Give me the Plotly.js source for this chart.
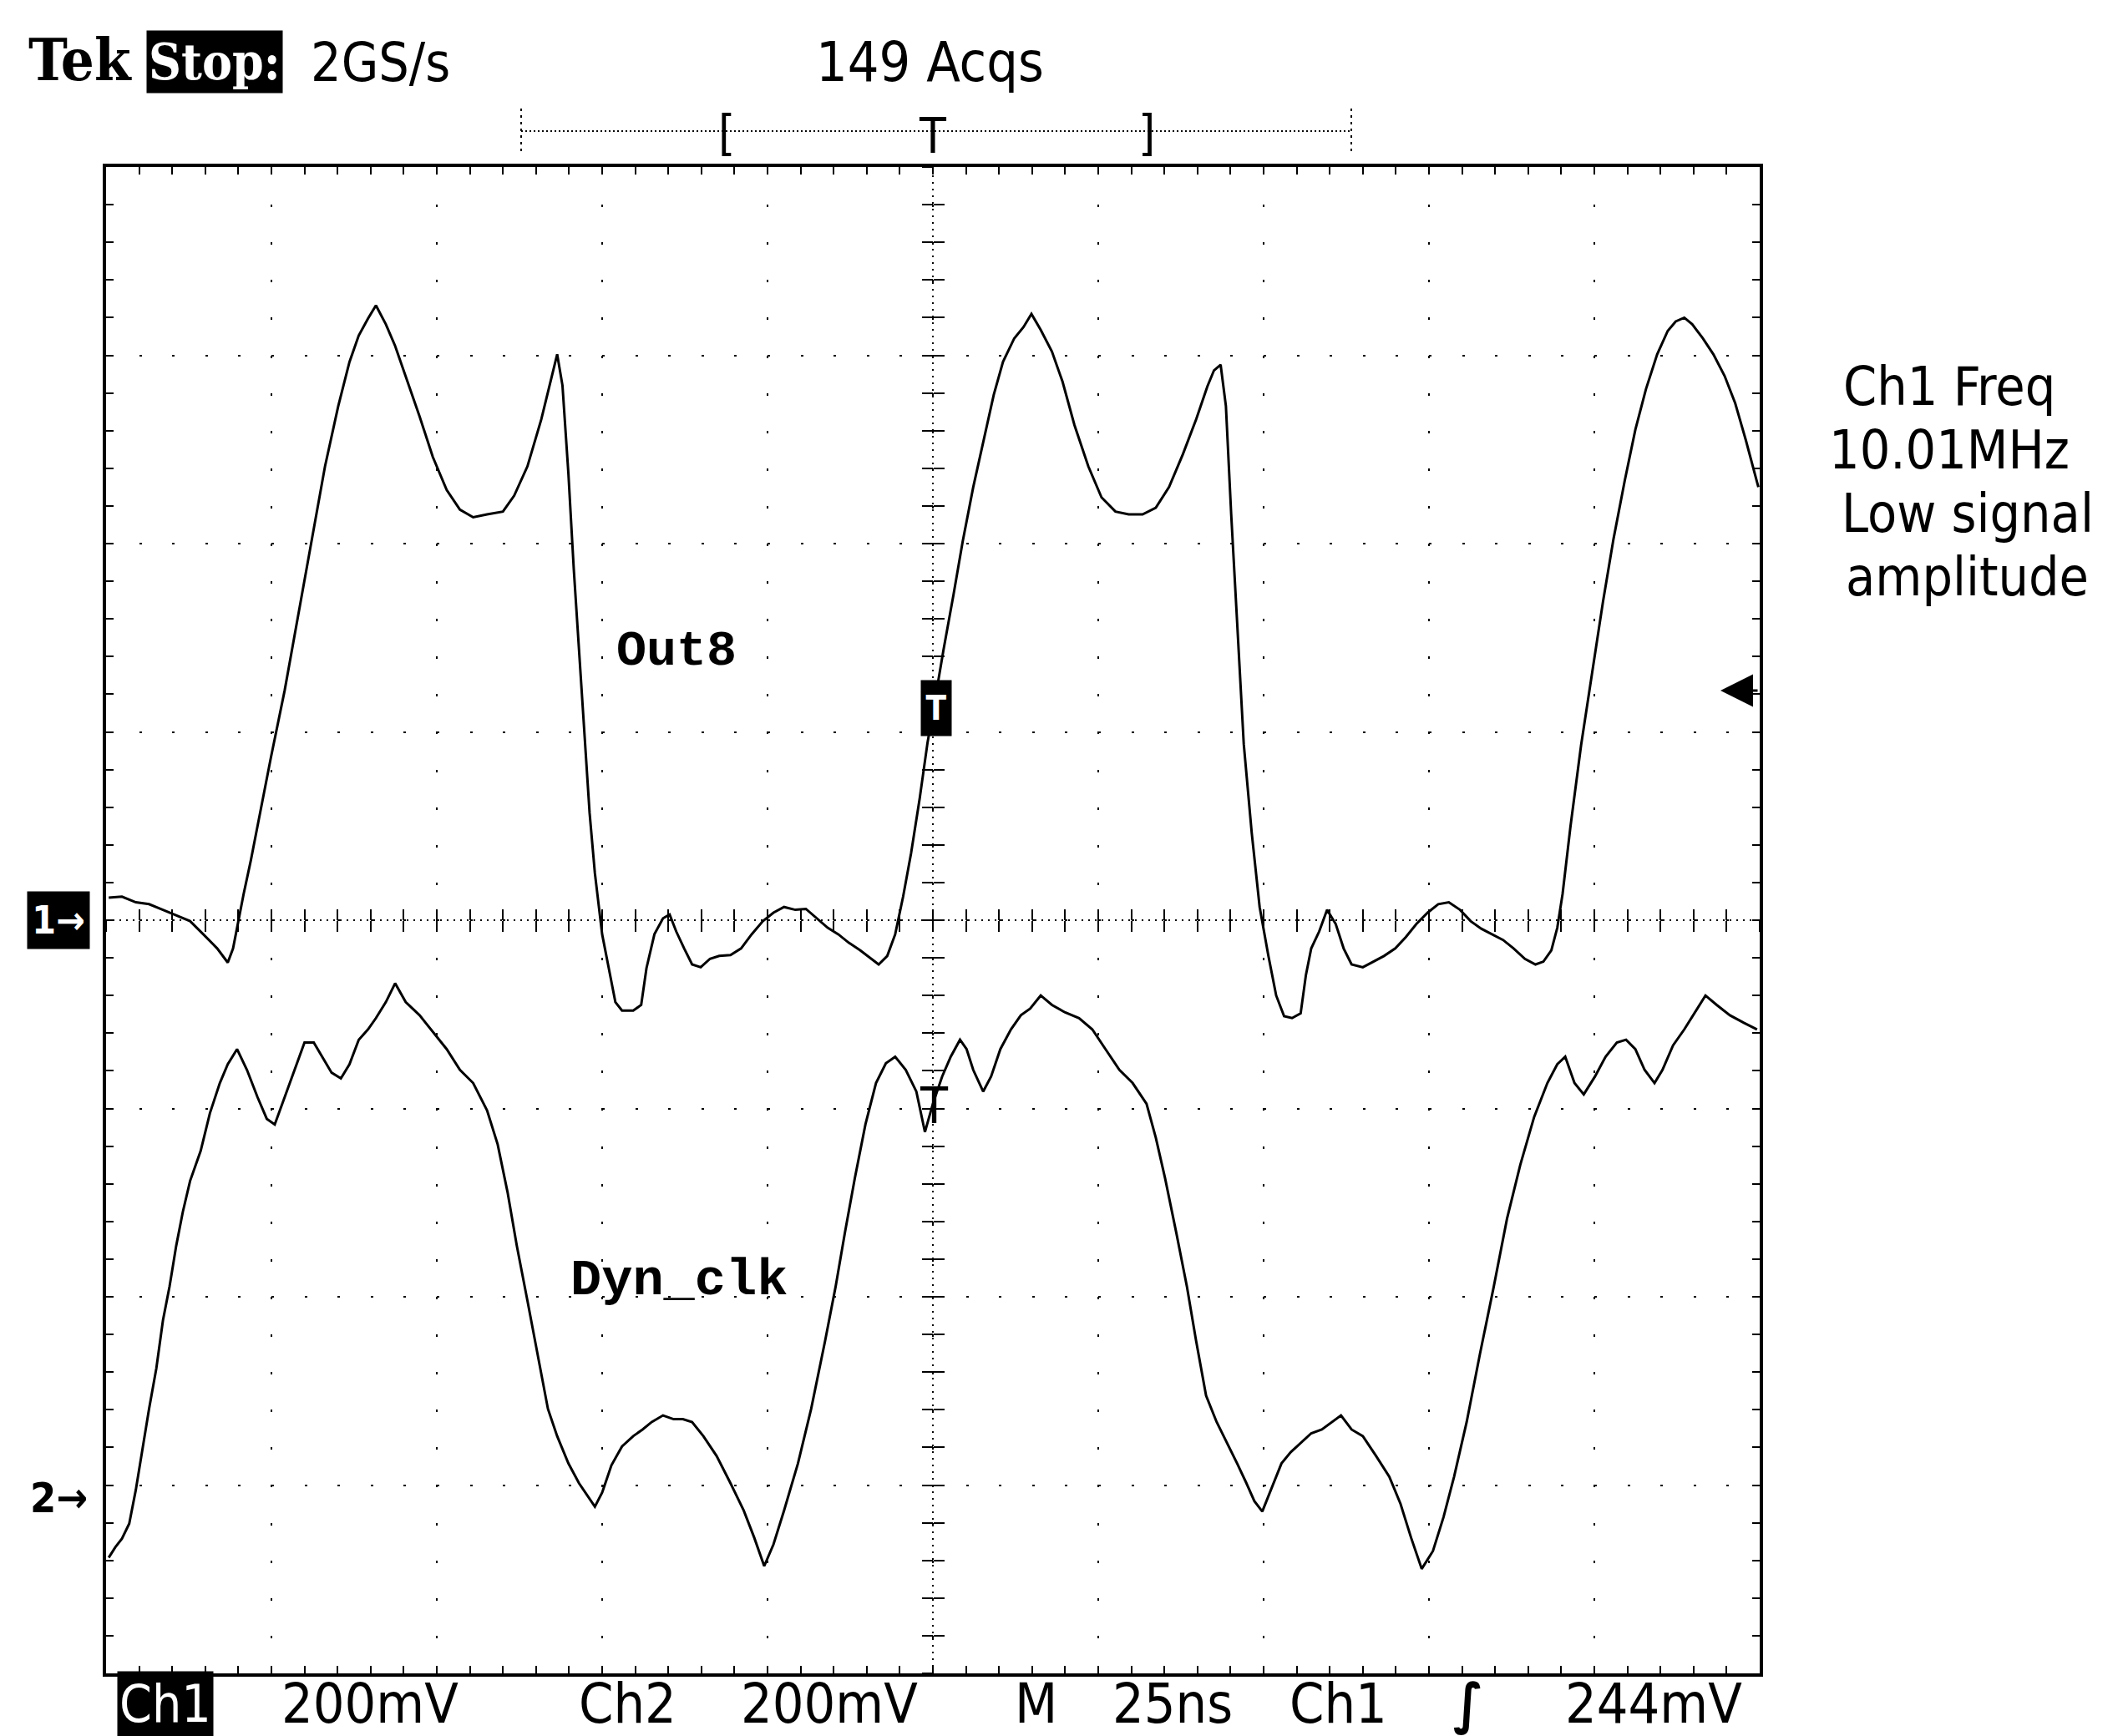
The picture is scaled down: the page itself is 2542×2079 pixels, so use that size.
<!DOCTYPE html>
<html>
<head>
<meta charset="utf-8">
<script src="https://cdn.plot.ly/plotly-3.0.1.min.js"></script>
<style>
html,body{margin:0;padding:0;background:#fff;}
#chart{width:2542px;height:2079px;}
</style>
</head>
<body>
<div id="chart"></div>
<script>
// ---- Data (time in ns, voltage in mV) ----
const ch1_t = [
 -124.6,-122.6,-120.5,-118.5,-116.4,-114.4,-112.3,-110.3,-108.2,-106.6,
 -105.8,-105.0,-104.2,-103.1,-102.1,-100.1,-98.0,-96.0,-94.0,-91.9,
 -89.9,-88.2,-86.8,-85.4,-84.2,-82.7,-81.3,-79.7,-77.6,-75.6,
 -73.5,-71.5,-69.5,-67.4,-65.0,-63.3,-61.3,-59.2,-57.6,-56.8,
 -56.0,-55.1,-54.3,-53.5,-52.7,-51.9,-51.1,-50.0,-49.0,-48.0,
 -47.0,-45.3,-44.1,-43.3,-42.1,-40.8,-39.8,-38.8,-37.6,-36.4,
 -35.1,-33.7,-32.3,-30.6,-29.0,-27.4,-25.7,-24.1,-22.5,-20.8,
 -19.2,-17.6,-15.9,-14.3,-12.7,-11.0,-9.4,-8.2,-6.9,-5.7,
 -4.5,-3.3,-2.0,-0.8,0.4,1.6,3.1,4.5,6.1,7.8,
 9.2,10.6,12.3,13.7,14.9,16.3,18.0,19.6,21.4,23.5,
 25.5,27.6,29.6,31.7,33.7,35.7,37.8,39.8,41.5,42.5,
 43.5,44.3,45.1,46.0,47.0,48.2,49.4,50.7,51.9,53.1,
 54.3,55.6,56.4,57.2,58.4,59.6,60.9,62.1,63.3,65.0,
 66.6,68.2,69.9,71.5,73.1,74.8,76.4,78.0,79.7,81.3,
 82.9,84.6,86.2,87.8,89.5,91.1,92.3,93.5,94.4,95.2,
 96.4,98.0,99.7,101.3,102.9,104.6,106.2,107.8,109.5,111.1,
 112.3,113.6,114.8,116.4,118.0,119.7,121.3,122.9,124.8
];
const ch1_mv = [
 24,25,19,17,11,5,-1,-15,-30,-45,
 -30,-1,28,64,100,172,244,323,402,482,
 546,593,621,639,653,633,610,578,535,492,
 457,436,428,431,434,451,482,532,578,601,
 568,474,374,287,194,114,50,-15,-51,-87,
 -96,-96,-90,-51,-15,2,6,-12,-30,-47,
 -50,-41,-38,-37,-30,-15,-1,8,14,11,
 12,2,-8,-15,-24,-32,-41,-47,-38,-15,
 25,71,129,189,237,287,345,402,460,515,
 558,593,618,630,644,627,604,572,526,482,
 449,434,431,431,438,460,495,532,567,584,
 590,546,431,316,187,93,14,-37,-80,-102,
 -104,-99,-58,-30,-12,11,-4,-30,-47,-50,
 -44,-38,-30,-18,-4,8,17,19,11,-1,
 -9,-15,-21,-30,-41,-47,-44,-32,-8,28,
 100,186,266,338,405,467,521,564,601,626,
 636,640,633,618,601,578,549,510,460
];
const ch2_t = [
 -124.6,-123.6,-122.6,-121.5,-120.5,-119.5,-118.5,-117.4,-116.4,-115.4,
 -114.4,-113.4,-112.3,-110.7,-109.3,-107.8,-106.6,-105.2,-103.7,-102.1,
 -100.7,-99.5,-98.0,-96.4,-95.0,-93.6,-92.3,-90.9,-89.5,-88.2,
 -86.8,-85.4,-84.2,-82.7,-81.3,-79.7,-77.6,-75.6,-73.5,-71.5,
 -69.5,-67.4,-65.8,-64.3,-62.9,-61.3,-59.8,-58.2,-56.8,-55.1,
 -53.5,-52.1,-51.1,-50.0,-48.6,-47.0,-45.3,-43.9,-42.5,-40.8,
 -39.2,-37.8,-36.4,-34.7,-32.7,-30.6,-28.6,-27.0,-25.5,-24.1,
 -22.5,-20.4,-18.4,-16.3,-14.7,-13.3,-11.8,-10.2,-8.6,-7.1,
 -5.7,-4.1,-2.5,-1.2,0.0,1.4,2.7,4.1,5.1,6.1,
 7.6,8.8,10.2,11.8,13.3,14.7,16.3,18.0,20.0,22.1,
 24.1,26.1,28.2,30.2,32.3,33.7,35.1,36.8,38.4,39.8,
 41.3,42.9,44.5,46.0,47.4,48.6,49.8,51.1,52.7,54.1,
 55.6,57.2,58.8,60.3,61.7,63.3,65.0,67.0,69.0,70.7,
 72.3,73.9,75.6,77.2,78.8,80.7,82.7,84.8,86.8,88.8,
 90.9,92.9,94.4,95.6,97.0,98.4,100.1,101.7,103.4,104.8,
 106.2,107.6,109.1,110.3,111.9,113.6,115.2,116.8,118.5,120.5,
 122.6,124.6
];
const ch2_mv = [
 -63,-52,-43,-27,9,52,95,138,189,225,
 268,304,337,369,409,441,461,477,455,426,
 403,397,426,455,484,484,469,452,446,461,
 487,498,510,527,547,527,513,495,477,455,
 441,412,376,325,268,210,153,95,66,37,
 16,1,-9,6,35,55,66,73,81,88,
 84,84,81,66,45,16,-13,-42,-72,-49,
 -13,37,95,167,225,282,340,397,441,462,
 469,455,432,389,419,448,469,487,477,455,
 432,448,477,498,513,520,534,524,516,510,
 498,477,455,441,419,383,340,282,225,167,
 109,81,59,37,16,-3,-14,9,37,49,
 59,69,73,81,88,73,66,45,23,-6,
 -42,-75,-56,-20,23,81,153,225,297,354,
 405,441,461,469,441,429,448,469,484,487,
 477,455,441,455,481,498,516,534,524,513,
 505,498
];

// Scope settings (from the readout)
const MV_PER_DIV = 200;       // Ch1 and Ch2: 200mV/div
const NS_PER_DIV = 25;        // M 25ns
const CH2_GROUND_DIV = -3.07; // Ch2 ground marker position, in divisions from centre
const TRIG_LEVEL_MV = 244;    // Ch1 trigger level

// ---- Geometry helpers (page pixels -> paper fractions) ----
const L = 127, R = 2107, T = 200, B = 2004;
const W = R - L, H = B - T;
const px = X => (X - L) / W;
const py = Y => (B - Y) / H;

const SANS = '"DejaVu Sans Condensed", "Liberation Sans Narrow", "DejaVu Sans", sans-serif';
const SERIF = '"DejaVu Serif Condensed", "DejaVu Serif", serif';
const MONO = '"Liberation Mono", "DejaVu Sans Mono", monospace';

const xr = [-5 * NS_PER_DIV, 5 * NS_PER_DIV];
const yr = [-4 * MV_PER_DIV, 4 * MV_PER_DIV];
const y2r = [(-4 - CH2_GROUND_DIV) * MV_PER_DIV, (4 - CH2_GROUND_DIV) * MV_PER_DIV];

const traces = [
  {x: ch1_t, y: ch1_mv, type: 'scatter', mode: 'lines', xaxis: 'x', yaxis: 'y',
   line: {color: '#000', width: 3}, name: 'Out8', hoverinfo: 'skip'},
  {x: ch2_t, y: ch2_mv, type: 'scatter', mode: 'lines', xaxis: 'x', yaxis: 'y2',
   line: {color: '#000', width: 3}, name: 'Dyn_clk', hoverinfo: 'skip'},
  // empty traces that only register the centre-cross tick axes
  {x: [], y: [], type: 'scatter', mode: 'lines', xaxis: 'x3', yaxis: 'y3', hoverinfo: 'skip', showlegend: false},
  {x: [], y: [], type: 'scatter', mode: 'lines', xaxis: 'x4', yaxis: 'y4', hoverinfo: 'skip', showlegend: false}
];

const tickCommon = {showgrid: false, zeroline: false, showline: false, showticklabels: false,
  tickcolor: '#000', tickwidth: 2, ticklen: 13, fixedrange: true};

const annFont = (size, family, color, weight) => ({size: size, family: family, color: color || '#000', weight: weight || 'normal'});
const A = (text, X, Y, size, family, extra) => Object.assign({
  text: text, xref: 'paper', yref: 'paper', x: px(X), y: py(Y),
  xanchor: 'center', yanchor: 'middle', showarrow: false,
  font: annFont(size, family)
}, extra || {});

const annotations = [
  // Header
  A('Tek', 96, 72, 70, SERIF, {font: annFont(70, SERIF, '#000', 'bold')}),
  A('Stop:', 257, 74, 60, SERIF, {font: annFont(60, SERIF, '#fff', 'bold'), bgcolor: '#000', borderpad: 2}),
  A('2GS/s', 455, 75, 64, SANS),
  A('149 Acqs', 1113, 75, 66, SANS),
  A('[', 870, 160, 58, SANS),
  A(']', 1373, 160, 58, SANS),
  A('T', 1117, 163, 58, SANS),
  // Bottom readout
  A('Ch1', 198, 2040, 62, SANS, {font: annFont(62, SANS, '#fff'), bgcolor: '#000', borderpad: 2}),
  A('200mV', 443, 2040, 66, SANS),
  A('Ch2', 751, 2040, 66, SANS),
  A('200mV', 993, 2040, 66, SANS),
  A('M', 1240, 2040, 66, SANS),
  A('25ns', 1404, 2040, 66, SANS),
  A('Ch1', 1602, 2040, 66, SANS),
  A('∫', 1758, 2040, 66, SANS, {font: annFont(66, SANS, '#000', 'bold')}),
  A('244mV', 1980, 2040, 66, SANS),
  // Right side measurement readout
  A('Ch1 Freq', 2205, 463, 64, SANS, {xanchor: 'left'}),
  A('10.01MHz', 2188, 539, 64, SANS, {xanchor: 'left'}),
  A('Low signal', 2203, 615, 64, SANS, {xanchor: 'left'}),
  A('amplitude', 2208, 691, 64, SANS, {xanchor: 'left'}),
  // Trace labels
  A('Out8', 810, 780, 60, MONO, {font: annFont(60, MONO, '#000', 'bold')}),
  A('Dyn_clk', 813, 1533, 62, MONO, {font: annFont(62, MONO, '#000', 'bold')}),
  // Trigger position markers
  A('T', 1121, 848, 40, SANS, {font: annFont(40, SANS, '#fff', 'bold'), bgcolor: '#000', width: 34, height: 64}),
  A('T', 1118, 1324, 60, SANS),
  // Channel ground markers
  {text: '1→', xref: 'paper', yref: 'y', x: px(70), y: 0, xanchor: 'center', yanchor: 'middle',
   showarrow: false, font: annFont(46, SANS, '#fff', 'bold'), bgcolor: '#000', width: 72, height: 66},
  {text: '2→', xref: 'paper', yref: 'y2', x: px(70), y: 0, xanchor: 'center', yanchor: 'middle',
   showarrow: false, font: annFont(50, SANS, '#000', 'bold')},
  // Trigger level arrow (Ch1)
  {text: '', xref: 'paper', yref: 'y', x: px(2060), y: TRIG_LEVEL_MV, ax: 46, ay: 0,
   showarrow: true, arrowhead: 2, arrowsize: 2.6, arrowwidth: 3, arrowcolor: '#000'}
];

const shapes = [
  // record-length bar at top
  {type: 'line', xref: 'paper', yref: 'paper', x0: px(624), x1: px(1618), y0: py(157), y1: py(157),
   line: {color: '#000', width: 2, dash: '2px,3px'}},
  {type: 'line', xref: 'paper', yref: 'paper', x0: px(624), x1: px(624), y0: py(130), y1: py(184),
   line: {color: '#000', width: 2, dash: '3px,5px'}},
  {type: 'line', xref: 'paper', yref: 'paper', x0: px(1618), x1: px(1618), y0: py(130), y1: py(184),
   line: {color: '#000', width: 2, dash: '3px,5px'}},
  // centre cross lines
  {type: 'line', xref: 'x', yref: 'paper', x0: 0, x1: 0, y0: 0, y1: 1, layer: 'below',
   line: {color: '#000', width: 2, dash: '2px,6px'}},
  {type: 'line', xref: 'paper', yref: 'y', x0: 0, x1: 1, y0: 0, y1: 0, layer: 'below',
   line: {color: '#000', width: 2, dash: '2px,6px'}}
];

const layout = {
  width: 2542, height: 2079,
  margin: {l: L, r: 2542 - R, t: T, b: 2079 - B, pad: 0},
  paper_bgcolor: '#fff', plot_bgcolor: '#fff',
  showlegend: false, hovermode: false,
  xaxis: {
    range: xr, dtick: NS_PER_DIV, tick0: 0, showgrid: true, gridcolor: '#000', gridwidth: 2,
    griddash: '3px,42.1px', zeroline: false, showline: true, linecolor: '#000', linewidth: 4,
    mirror: 'allticks', ticks: 'inside', ticklen: 9, tickwidth: 2, tickcolor: '#000',
    showticklabels: false, fixedrange: true,
    minor: {dtick: NS_PER_DIV / 5, ticks: 'inside', ticklen: 9, tickwidth: 2, tickcolor: '#000', showgrid: false}
  },
  yaxis: {
    range: yr, dtick: MV_PER_DIV, tick0: 0, showgrid: true, gridcolor: '#000', gridwidth: 2,
    griddash: '3px,36.6px', zeroline: false, showline: true, linecolor: '#000', linewidth: 4,
    mirror: 'allticks', ticks: 'inside', ticklen: 9, tickwidth: 2, tickcolor: '#000',
    showticklabels: false, fixedrange: true,
    minor: {dtick: MV_PER_DIV / 5, ticks: 'inside', ticklen: 9, tickwidth: 2, tickcolor: '#000', showgrid: false}
  },
  yaxis2: {range: y2r, overlaying: 'y', visible: false, fixedrange: true},
  // centre-line tick marks (both sides of the centre cross)
  xaxis3: Object.assign({overlaying: 'x', anchor: 'free', position: 0.5, range: xr, dtick: NS_PER_DIV / 5, tick0: 0, ticks: 'outside'}, tickCommon),
  xaxis4: Object.assign({overlaying: 'x', anchor: 'free', position: 0.5, range: xr, dtick: NS_PER_DIV / 5, tick0: 0, ticks: 'inside'}, tickCommon),
  yaxis3: Object.assign({overlaying: 'y', anchor: 'free', position: 0.5, range: yr, dtick: MV_PER_DIV / 5, tick0: 0, ticks: 'outside'}, tickCommon),
  yaxis4: Object.assign({overlaying: 'y', anchor: 'free', position: 0.5, range: yr, dtick: MV_PER_DIV / 5, tick0: 0, ticks: 'inside'}, tickCommon),
  annotations: annotations,
  shapes: shapes
};

Plotly.newPlot('chart', traces, layout, {staticPlot: true, displayModeBar: false});
</script>
</body>
</html>
